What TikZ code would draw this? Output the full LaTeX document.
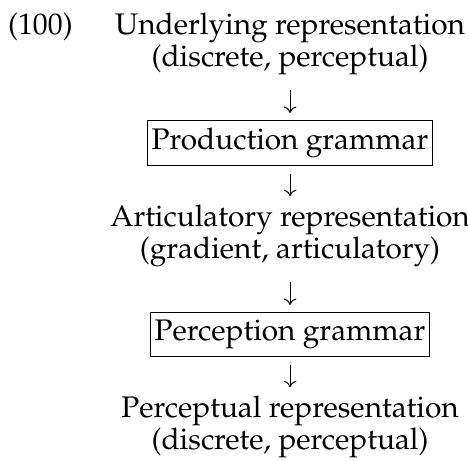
\documentclass[tikz,border=0pt]{standalone}
\usepackage[T1]{fontenc}
\usepackage{mathpazo}
\usetikzlibrary{positioning, arrows.meta}

\begin{document}
\begin{tikzpicture}[
    rep/.style={align=center, inner sep=0pt, font=\fontsize{13.1}{14.1}\selectfont},
    gram/.style={rectangle, draw, line width=0.45pt, inner xsep=2pt, inner ysep=3.3pt, font=\fontsize{13.1}{14.1}\selectfont},
    arr/.style={-{To[length=2.8pt, width=5.6pt]}, line width=0.45pt},
    down/.style={arr, shorten <=6.2pt, shorten >=3pt},
    up/.style={arr, shorten <=3.5pt, shorten >=3.8pt},
  ]
    \useasboundingbox (0,0) rectangle (205.9pt,-202.4pt);

    \node[rep, anchor=north] (UR) at (127.6pt,-5.6pt) {Underlying representation\\(discrete, perceptual)};
    \node[rep, anchor=base west] (num) at (3.4pt,-15.2pt) {(100)};
    \node[gram, below=19.4pt of UR] (PG) {Production grammar};
    \node[rep, below=17.2pt of PG] (AR) {Articulatory representation\\(gradient, articulatory)};
    \node[gram, below=19.4pt of AR] (PcG) {Perception grammar};
    \node[rep, below=17.2pt of PcG] (PR) {Perceptual representation\\(discrete, perceptual)};

    \draw[down] (UR) -- (PG);
    \draw[up] (PG) -- (AR);
    \draw[down] (AR) -- (PcG);
    \draw[up] (PcG) -- (PR);
  \end{tikzpicture}
\end{document}
